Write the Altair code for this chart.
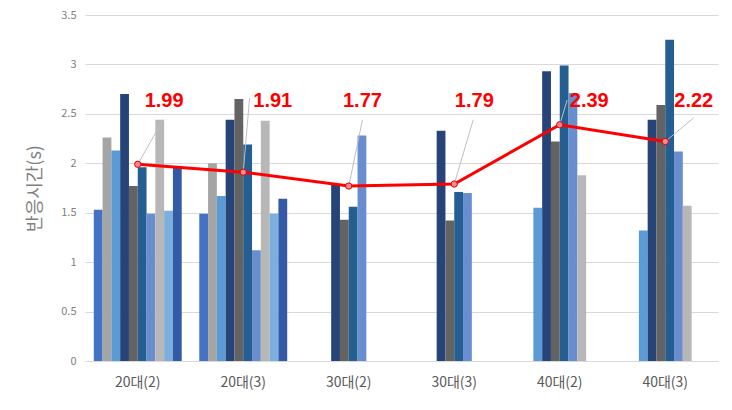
import altair as alt
import pandas as pd

groups = ["20대(2)", "20대(3)", "30대(2)", "30대(3)", "40대(2)", "40대(3)"]
series = ["S1", "S2", "S3", "S4", "S5", "S6", "S7", "S8", "S9", "S10"]
colors = ["#4472C4", "#A5A5A5", "#5B9BD5", "#264478", "#636363",
          "#255E91", "#698ED0", "#B7B7B7", "#7CAFDD", "#335AA6"]

# values per group, one per series (None = no bar)
v_20_2 = [1.53, 2.26, 2.13, 2.70, 1.77, 1.96, 1.49, 2.44, 1.52, 1.97]
v_20_3 = [1.49, 2.00, 1.67, 2.44, 2.65, 2.19, 1.12, 2.43, 1.49, 1.64]
v_30_2 = [None, None, None, 1.78, 1.43, 1.56, 2.28, None, None, None]
v_30_3 = [None, None, None, 2.33, 1.42, 1.71, 1.70, None, None, None]
v_40_2 = [None, None, 1.55, 2.93, 2.22, 2.99, 2.71, 1.88, None, None]
v_40_3 = [None, None, 1.32, 2.44, 2.59, 3.25, 2.12, 1.57, None, None]
all_vals = [v_20_2, v_20_3, v_30_2, v_30_3, v_40_2, v_40_3]

avg = [1.99, 1.91, 1.77, 1.79, 2.39, 2.22]
avg_labels = ["1.99", "1.91", "1.77", "1.79", "2.39", "2.22"]

# label placement (style): offsets as fraction of a category band
label_dx = [0.25, 0.28, 0.13, 0.19, 0.28, 0.27]
label_y = 2.63
leader_dx = [0.24, 0.06, 0.13, 0.18, 0.07, 0.27]
leader_y = [2.44, 2.66, 2.44, 2.44, 2.64, 2.46]

rows = []
for g, vals in zip(groups, all_vals):
    for s, v in zip(series, vals):
        if v is not None:
            rows.append({"group": g, "series": s, "value": v})
df_bars = pd.DataFrame(rows)

df_line = pd.DataFrame({
    "group": groups,
    "value": avg,
    "label": avg_labels,
    "off": [0.5] * len(groups),
    "loff": [0.5 + d for d in label_dx],
    "ly": [label_y] * len(groups),
})

lead_rows = []
for g, v, d, ey in zip(groups, avg, leader_dx, leader_y):
    lead_rows.append({"group": g, "off": 0.5, "value": v, "k": 0})
    lead_rows.append({"group": g, "off": 0.5 + d, "value": ey, "k": 1})
df_lead = pd.DataFrame(lead_rows)

FONT = "Noto Sans CJK KR"
yscale = alt.Scale(domain=[0, 3.5], nice=False)
yaxis = alt.Axis(
    title="반응시간(s)", values=[0, 0.5, 1, 1.5, 2, 2.5, 3, 3.5],
    labelExpr="datum.value + ''", labelFontSize=11, labelColor="#7F7F7F",
    labelPadding=9, titleFontSize=18, titleColor="#7F7F7F", titleFontWeight="normal",
    titlePadding=16, titleFont=FONT, labelFont=FONT,
    domain=False, ticks=False, grid=True, gridColor="#D9D9D9", gridWidth=1,
)
xscale = alt.Scale(domain=groups, paddingInner=0, paddingOuter=0)
xaxis = alt.Axis(title=None, labelAngle=0, labelFontSize=14, labelColor="#595959",
                 labelPadding=14, domain=False, ticks=False, grid=False, labelFont=FONT)
x_enc = alt.X("group:N", sort=groups, scale=xscale, axis=xaxis)
off_scale = alt.Scale(domain=[0, 1], nice=False, zero=False)

bars = alt.Chart(df_bars).mark_bar().encode(
    x=x_enc,
    xOffset=alt.XOffset("series:N", sort=series,
                        scale=alt.Scale(domain=series, paddingInner=0, paddingOuter=1)),
    y=alt.Y("value:Q", scale=yscale, axis=yaxis),
    color=alt.Color("series:N", scale=alt.Scale(domain=series, range=colors), legend=None),
)

leaders = alt.Chart(df_lead).mark_line(color="#BFBFBF", strokeWidth=1).encode(
    x=x_enc,
    xOffset=alt.XOffset("off:Q", scale=off_scale),
    y=alt.Y("value:Q", scale=yscale, axis=yaxis),
    detail="group:N",
    order="k:Q",
)

base = alt.Chart(df_line)

line = base.mark_line(color="#FF0000", strokeWidth=3).encode(
    x=x_enc,
    xOffset=alt.XOffset("off:Q", scale=off_scale),
    y=alt.Y("value:Q", scale=yscale, axis=yaxis),
)

points = base.mark_point(shape="circle", filled=True, size=40, fill="#F08A92",
                         stroke="#E00000", strokeWidth=1, opacity=1).encode(
    x=x_enc,
    xOffset=alt.XOffset("off:Q", scale=off_scale),
    y=alt.Y("value:Q", scale=yscale, axis=yaxis),
)

labels = base.mark_text(font="Liberation Sans", fontSize=20, fontWeight="bold",
                        color="#FF0000", align="center", baseline="middle").encode(
    x=x_enc,
    xOffset=alt.XOffset("loff:Q", scale=off_scale),
    y=alt.Y("ly:Q", scale=yscale, axis=yaxis),
    text="label:N",
)

chart = alt.layer(bars, leaders, line, points, labels).resolve_scale(
    xOffset="independent"
).properties(
    width=633, height=346,
    autosize=alt.AutoSizeParams(type="none"),
    padding={"left": 85, "top": 15, "right": 14, "bottom": 49},
    background="white",
).configure_view(stroke="transparent", strokeWidth=0).configure_axisX(
    grid=False, domain=False, ticks=False
)

chart.save("out.html", embed_options={"renderer": "svg", "actions": False})
